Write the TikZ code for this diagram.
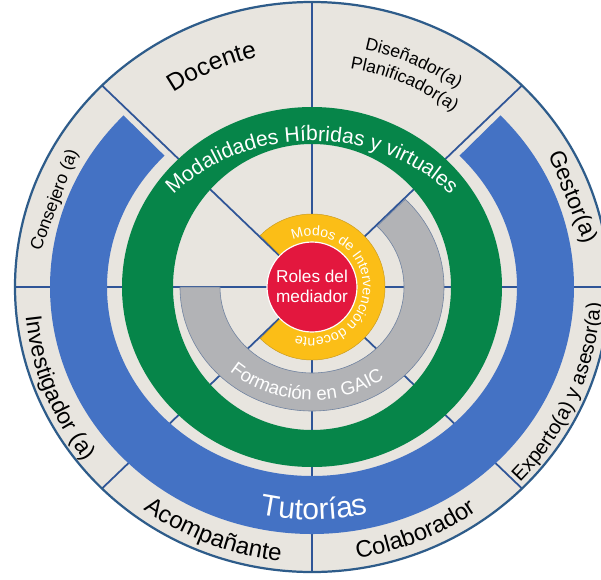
\documentclass[tikz,border=0pt]{standalone}
\usepackage{fontspec}
\setmainfont{Liberation Sans}
\usetikzlibrary{decorations.text}
\definecolor{beige}{HTML}{E8E5DF}
\definecolor{spokeblue}{HTML}{2F5597}
\definecolor{ringblue}{HTML}{4472C4}
\definecolor{ringgreen}{HTML}{068549}
\definecolor{ringgray}{HTML}{B2B3B6}
\definecolor{grayline}{HTML}{6F82A0}
\definecolor{ringyellow}{HTML}{FBBE17}
\definecolor{yellowline}{HTML}{C99A1E}
\definecolor{ringred}{HTML}{E3173E}
\definecolor{outerline}{HTML}{2E5C8A}
\newcommand\myfs[1]{\fontsize{#1}{#1}\selectfont}
\begin{document}
\begin{tikzpicture}[x=0.03cm,y=0.03cm,
  spoke/.style={draw=spokeblue,line width=1.5pt},
  roletext/.style={inner sep=0pt,text=black}]
\useasboundingbox (-312,-292) rectangle (289,287);
\fill[white] (-312,-292) rectangle (289,287);
% background disc
\fill[beige] (0,0) ellipse [x radius=297,y radius=285];
% spokes
\foreach \a in {0,45,...,315} \draw[spoke] (0,0) -- (\a:297 and 285);
% blue ring (Tutorias)
\fill[ringblue] (136:262 and 247) arc[start angle=136,end angle=404,x radius=262,y radius=247]
  -- (404:205 and 189) arc[start angle=404,end angle=136,x radius=205,y radius=189] -- cycle;
% green ring
\fill[ringgreen,even odd rule] (0,0) ellipse [x radius=190,y radius=180]
  (0,0) ellipse [x radius=139,y radius=143];
% gray ring
\filldraw[fill=ringgray,draw=grayline,line width=0.5pt]
  (-180:132 and 124) arc[start angle=-180,end angle=45,x radius=132,y radius=124]
  -- (45:92 and 86) arc[start angle=45,end angle=-180,x radius=92,y radius=86] -- cycle;
% yellow ring
\filldraw[fill=ringyellow,draw=yellowline,line width=0.4pt]
  (-135:73) arc[start angle=-135,end angle=135,radius=73]
  -- (135:45) arc[start angle=135,end angle=-135,radius=45] -- cycle;
% red centre
\filldraw[fill=ringred,draw=white,line width=1pt] (0,0) circle (45);
% outer outline
\draw[outerline,line width=1.9pt] (0,0) ellipse [x radius=297,y radius=285];

% ---- texts ----
\node[align=center,text=white,font=\myfs{14.7}\linespread{1.15}\selectfont,inner sep=0pt] (roles) at (0,1) {Roles del\\mediador};

\path[decorate,decoration={text along path,text align=center,
  text={|\myfs{12}\color{white}|Modos de Intervención docente}}]
  (130:51) arc[start angle=130,end angle=-126,radius=51];

\path[decorate,decoration={text along path,text align=center,
  text={|\myfs{16}\color{white}|Formación en GAIC}}]
  (210:124 and 113) arc[start angle=210,end angle=324,x radius=124,y radius=113];

\path[decorate,decoration={text along path,text align=center,
  text={|\myfs{18}\color{white}|Modalidades Híbridas y virtuales}}]
  (168:178 and 146) arc[start angle=168,end angle=12,x radius=178,y radius=146];

\path[decorate,decoration={text along path,text align=center,
  text={|\myfs{25.6}\color{white}|Tutorías}}]
  (235:245 and 233) arc[start angle=235,end angle=306,x radius=245,y radius=233];

\path[decorate,decoration={text along path,text align=center,
  text={|\myfs{21}|Docente}}]
  (144:243 and 236) arc[start angle=144,end angle=84,x radius=243,y radius=236];

\path[decorate,decoration={text along path,text align=center,
  text={|\myfs{15}|Diseñador(a)}}]
  (100:250 and 243) arc[start angle=100,end angle=32,x radius=250,y radius=243];

\path[decorate,decoration={text along path,text align=center,
  text={|\myfs{15}|Planificador(a)}}]
  (102:229 and 222) arc[start angle=102,end angle=30,x radius=229,y radius=222];

\path[decorate,decoration={text along path,text align=center,
  text={|\myfs{19.5}|Investigador (a)}}]
  (169:288 and 282) arc[start angle=169,end angle=235,x radius=288,y radius=282];

\path[decorate,decoration={text along path,text align=center,
  text={|\myfs{20.5}|Acompañante}}]
  (215:284 and 276) arc[start angle=215,end angle=282,x radius=284,y radius=276];

\path[decorate,decoration={text along path,text align=center,
  text={|\myfs{20.2}|Colaborador}}]
  (260:284 and 275) arc[start angle=260,end angle=325,x radius=284,y radius=275];

\path[decorate,decoration={text along path,text align=center,
  text={|\myfs{17.2}|Experto(a) y asesor(a)}}]
  (-61:289 and 281) arc[start angle=-61,end angle=14,x radius=289,y radius=281];

\node[roletext,font=\myfs{15},rotate=69.5] (consejero) at (-257,87) {Consejero (a)};
\node[roletext,font=\myfs{19.6},rotate=-68] (gestor) at (260,90) {Gestor(a)};
\end{tikzpicture}
\end{document}
